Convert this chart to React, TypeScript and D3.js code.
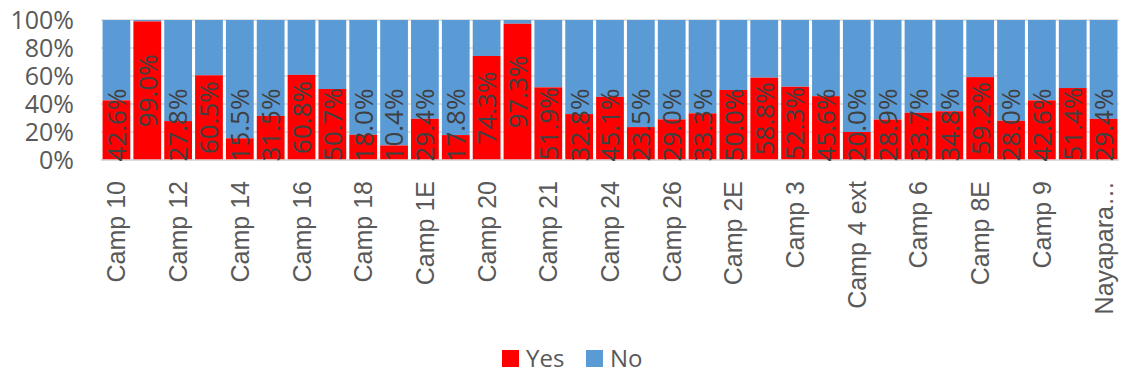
import React from "react";
import * as d3 from "d3";

const categories = [
  "Camp 10", "Camp 11", "Camp 12", "Camp 13", "Camp 14", "Camp 15", "Camp 16", "Camp 17",
  "Camp 18", "Camp 19", "Camp 1E", "Camp 1W", "Camp 20", "Camp 20 Ext", "Camp 21", "Camp 22",
  "Camp 24", "Camp 25", "Camp 26", "Camp 27", "Camp 2E", "Camp 2W", "Camp 3", "Camp 4",
  "Camp 4 ext", "Camp 5", "Camp 6", "Camp 7", "Camp 8E", "Camp 8W", "Camp 9", "Kutupalong RC",
  "Nayapara RC",
];
const yesValues = [
  42.6, 99.0, 27.8, 60.5, 15.5, 31.5, 60.8, 50.7, 18.0, 10.4, 29.4, 17.8, 74.3, 97.3, 51.9, 32.8,
  45.1, 23.5, 29.0, 33.3, 50.0, 58.8, 52.3, 45.6, 20.0, 28.9, 33.7, 34.8, 59.2, 28.0, 42.6, 51.4,
  29.4,
];
const yTicks = [0, 20, 40, 60, 80, 100];
const seriesNames = ["Yes", "No"];
const seriesColors = ["#FF0000", "#5B9BD5"];

const W = 1133;
const H = 386;
const plotLeft = 101;
const plotRight = 1119;
const plotTop = 20;
const plotBottom = 160;

function truncate(s: string) {
  return s.length > 10 ? s.slice(0, 8) + "…" : s;
}

export default function App() {
  const x = d3.scaleBand<string>().domain(categories).range([plotLeft, plotRight]).paddingInner(0.1).paddingOuter(0.05);
  const y = d3.scaleLinear().domain([0, 100]).range([plotBottom, plotTop]);
  const bw = x.bandwidth();
  const font = "'Open Sans', 'Noto Sans', sans-serif";

  return (
    <svg width={W} height={H} style={{ position: "absolute", left: 0, top: 0, background: "#fff" }}>
      {yTicks.map((t) => (
        <g key={t}>
          <line x1={plotLeft} x2={plotRight} y1={y(t)} y2={y(t)} stroke="#d9d9d9" strokeWidth={1.3} />
          <text x={74} y={y(t)} dy="0.36em" textAnchor="end" fontSize={25} fill="#595959" fontFamily={font}>
            {t}%
          </text>
        </g>
      ))}
      {categories.map((c, i) => {
        const x0 = x(c)!;
        return (
          <g key={c}>
            <rect x={x0} y={y(100)} width={bw} height={y(yesValues[i]) - y(100)} fill={seriesColors[1]} />
            <rect x={x0} y={y(yesValues[i])} width={bw} height={y(0) - y(yesValues[i])} fill={seriesColors[0]} />
          </g>
        );
      })}
      <line x1={plotLeft} x2={plotRight} y1={y(0)} y2={y(0)} stroke="#d9d9d9" strokeWidth={1.3} />
      {categories.map((c, i) => {
        const cx = x(c)! + bw / 2;
        const segCenter = (y(0) + y(yesValues[i])) / 2;
        const cy = Math.min(segCenter, 125);
        return (
          <text
            key={"l" + c}
            transform={`translate(${cx},${cy}) rotate(-90)`}
            textAnchor="middle"
            dy="0.36em"
            fontSize={26}
            fill="#404040"
            fontFamily={font}
          >
            {yesValues[i].toFixed(1)}%
          </text>
        );
      })}
      {categories.map((c, i) =>
        i % 2 === 0 ? (
          <text
            key={"t" + c}
            transform={`translate(${x(c)! + bw / 2},${181}) rotate(-90)`}
            textAnchor="end"
            dy="0.36em"
            fontSize={25}
            fill="#595959"
            fontFamily="'Liberation Sans', Arial, sans-serif"
          >
            {truncate(c)}
          </text>
        ) : null
      )}
      {seriesNames.map((s, i) => {
        const lx = i === 0 ? 502 : 586;
        return (
          <g key={s}>
            <rect x={lx} y={350} width={17} height={17} fill={seriesColors[i]} />
            <text x={lx + 24} y={358.5} dy="0.36em" fontSize={24} fill="#595959" fontFamily={font}>
              {s}
            </text>
          </g>
        );
      })}
    </svg>
  );
}
